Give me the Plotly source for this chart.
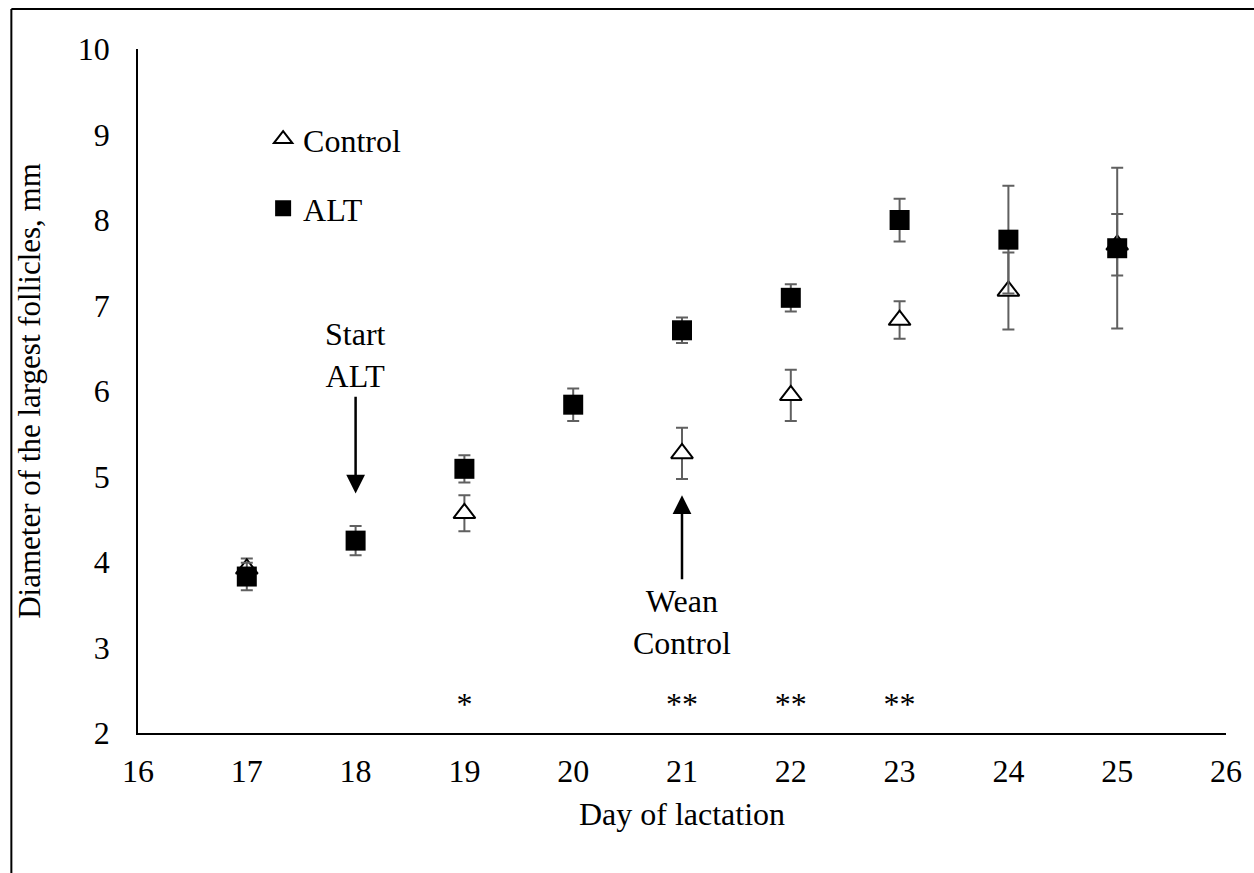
import plotly.graph_objects as go

# ---- data ----
days_alt = [17, 18, 19, 20, 21, 22, 23, 24, 25]
alt_mean = [3.83, 4.25, 5.09, 5.84, 6.71, 7.09, 8.00, 7.77, 7.67]
alt_err = [0.16, 0.17, 0.16, 0.19, 0.15, 0.16, 0.25, 0.63, 0.94]

days_ctrl = [17, 19, 21, 22, 23, 24, 25]
ctrl_mean = [3.92, 4.57, 5.27, 5.95, 6.83, 7.17, 7.71]
ctrl_err = [0.12, 0.21, 0.30, 0.30, 0.22, 0.45, 0.36]

sig_days = [19, 21, 22, 23]
sig_labels = ["*", "**", "**", "**"]
sig_y = [2.31, 2.31, 2.31, 2.31]

x_ticks = list(range(16, 27))
y_ticks = list(range(2, 11))

FONT = "Liberation Serif, Times New Roman, serif"
FS = 32
ERRC = "#606060"

fig = go.Figure()

fig.add_trace(go.Scatter(
    x=days_ctrl, y=ctrl_mean, mode="markers", name="Control",
    marker=dict(symbol="triangle-up", size=19, color="white",
                line=dict(color="black", width=2)),
    error_y=dict(type="data", array=ctrl_err, visible=True,
                 color=ERRC, thickness=2, width=6),
    legend="legend",
))

fig.add_trace(go.Scatter(
    x=days_alt, y=alt_mean, mode="markers", name="ALT",
    marker=dict(symbol="square", size=20, color="black",
                line=dict(color="black", width=0)),
    error_y=dict(type="data", array=alt_err, visible=True,
                 color=ERRC, thickness=2, width=6),
    legend="legend2",
))

fig.add_trace(go.Scatter(
    x=sig_days, y=sig_y, mode="text", text=sig_labels,
    textfont=dict(family=FONT, size=32, color="black"),
    showlegend=False, hoverinfo="skip",
))

# arrows
fig.add_annotation(x=18, y=4.80, ax=18, ay=5.95, xref="x", yref="y",
                   axref="x", ayref="y", text="", showarrow=True,
                   arrowhead=2, arrowsize=1.5, arrowwidth=2.5, arrowcolor="black")
fig.add_annotation(x=21, y=4.78, ax=21, ay=3.78, xref="x", yref="y",
                   axref="x", ayref="y", text="", showarrow=True,
                   arrowhead=2, arrowsize=1.5, arrowwidth=2.5, arrowcolor="black")

fig.add_annotation(x=18, y=6.42, xref="x", yref="y", text="Start<br>ALT",
                   showarrow=False, font=dict(family=FONT, size=FS, color="black"))
fig.add_annotation(x=21, y=3.30, xref="x", yref="y", text="Wean<br>Control",
                   showarrow=False, font=dict(family=FONT, size=FS, color="black"))

# outer frame (left and top lines)
fig.add_shape(type="line", xref="paper", yref="paper",
              x0=-0.1164, x1=-0.1164, y0=1.0585, y1=-0.25,
              line=dict(color="black", width=2))
fig.add_shape(type="line", xref="paper", yref="paper",
              x0=-0.1164, x1=1.05, y0=1.0585, y1=1.0585,
              line=dict(color="black", width=2))

fig.update_layout(
    width=1254, height=873,
    margin=dict(l=138, r=25, t=49, b=140),
    paper_bgcolor="white", plot_bgcolor="white",
    font=dict(family=FONT, size=FS, color="black"),
    xaxis=dict(range=[16, 26], tickvals=x_ticks, showgrid=False, zeroline=False,
               showline=True, linecolor="black", linewidth=1.5, ticks="",
               ticklabelstandoff=9,
               title=dict(text="Day of lactation", standoff=14,
                          font=dict(family=FONT, size=FS))),
    yaxis=dict(range=[2, 10], tickvals=y_ticks, showgrid=False, zeroline=False,
               showline=True, linecolor="black", linewidth=1.5, ticks="",
               ticklabelstandoff=20,
               title=dict(text="Diameter of the largest follicles, mm", standoff=28,
                          font=dict(family=FONT, size=31))),
    legend=dict(x=0.115, y=0.868, xanchor="left", yanchor="middle",
                bgcolor="rgba(0,0,0,0)", font=dict(family=FONT, size=FS),
                itemsizing="trace"),
    legend2=dict(x=0.115, y=0.767, xanchor="left", yanchor="middle",
                 bgcolor="rgba(0,0,0,0)", font=dict(family=FONT, size=FS),
                 itemsizing="trace"),
    showlegend=True,
)

fig.write_html("out.html")
